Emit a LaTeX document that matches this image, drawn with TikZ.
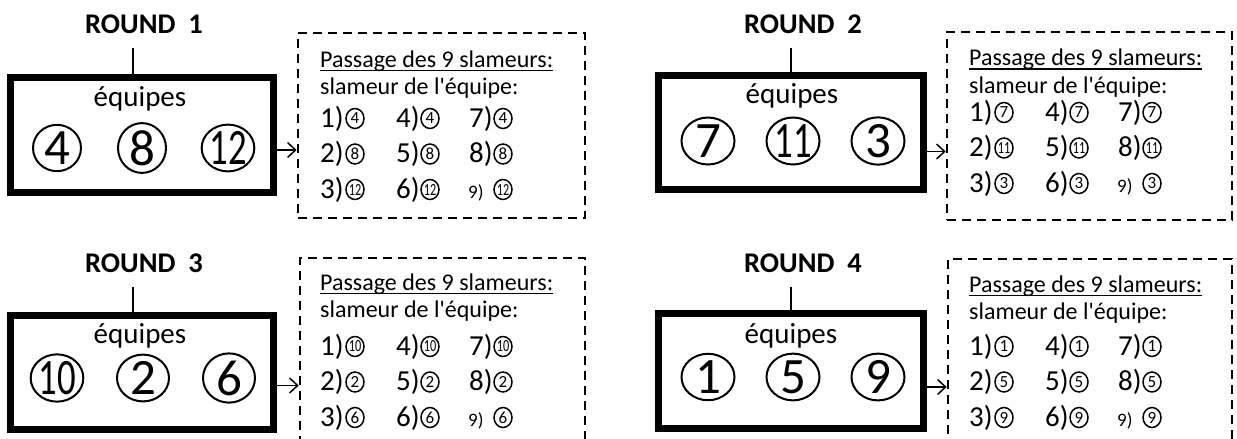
\documentclass[tikz,border=0pt]{standalone}
\usepackage{fontspec}
\usepackage{graphicx}
\setmainfont{Carlito}
\usetikzlibrary{shapes.geometric,arrows.meta}
\newcommand\fsz[1]{\fontsize{#1}{#1}\selectfont}
\newcommand\numtxt[1]{\ifnum#1>9 \scalebox{0.72}[1]{#1}\else #1\fi}
\tikzset{
  thickbox/.style={draw, line width=7pt, rectangle, inner sep=0pt},
  dashbox/.style={draw, line width=2.7pt, dash pattern=on 9pt off 6pt, rectangle, inner sep=0pt},
  bigcirc/.style={ellipse, draw, line width=2pt, inner sep=0pt, font=\fsz{51}},
  smallcirc/.style={ellipse, draw, line width=1.5pt, inner sep=0pt, minimum width=18pt, minimum height=20pt, font=\fsz{17}},
  roundlbl/.style={font=\fsz{28.5}\bfseries, inner sep=0pt, anchor=base},
  eqlbl/.style={font=\fsz{29}, inner sep=0pt, anchor=base},
  txt/.style={font=\fsz{24}, inner sep=0pt, anchor=base west},
  rowtxt/.style={font=\fsz{29}, inner sep=0pt, anchor=base west},
  smalltxt/.style={font=\fsz{19}, inner sep=0pt, anchor=base west},
  conn/.style={line width=1.5pt},
  arr/.style={line width=1.5pt, -{Straight Barb[length=8pt,width=15pt,line width=1.5pt]}},
  uline/.style={line width=1.6pt},
}
% #1 id, #2 x0, #3 baseline line1, #4 baseline row1, #5 #6 #7 teams
\newcommand\listblock[7]{%
  \node[txt] (#1ta) at (#2,#3) {Passage des 9 slameurs:};
  \draw[uline] ([yshift=-3.5pt]#1ta.base west) -- ([yshift=-3.5pt]#1ta.base east);
  \node[txt] (#1tb) at (#2,#3+27.5) {slameur de l\textquotesingle équipe:};
  \foreach \r/\n in {0/#5,1/#6,2/#7}{
    \foreach \c/\lx/\cx in {0/0/35,1/76/110,2/149/183}{
      \pgfmathtruncatemacro\k{\c*3+\r+1}
      \ifnum\k=9
        \node[smalltxt] (#1l\k) at (#2+\lx-1,#4+\r*35.5) {\k)};
      \else
        \node[rowtxt] (#1l\k) at (#2+\lx,#4+\r*35.5) {\k)};
      \fi
      \node[smallcirc] (#1c\k) at (#2+\cx,#4+\r*35.5-8.5) {\numtxt{\n}};
    }
  }
}
\begin{document}
\begin{tikzpicture}[x=1pt,y=-1pt]
\clip (0,0) rectangle (1237,439);
\fill[white] (0,0) rectangle (1237,439);

% ---------- Panel 1
\node[roundlbl] (r1) at (144,33) {ROUND\ \ 1};
\node[thickbox, minimum width=263pt, minimum height=115pt] (b1) at (142,135) {};
\draw[conn] ([xshift=-9pt]b1.north) -- ++(0,-26);
\node[eqlbl] (e1) at (140,106) {équipes};
\node[bigcirc, minimum width=48pt, minimum height=41pt] (c1a) at (57,148) {4};
\node[bigcirc, minimum width=48pt, minimum height=41pt] (c1b) at (142,148) {8};
\node[bigcirc, minimum width=49pt, minimum height=41pt] (c1c) at (228,148) {\numtxt{12}};
\node[dashbox, minimum width=287pt, minimum height=185pt] (d1) at (441.5,125.5) {};
\draw[arr] ([yshift=-15pt]b1.east) coordinate (a1) -- (a1 -| d1.west);
\listblock{p1}{320}{67}{127}{4}{8}{12}

% ---------- Panel 2
\node[roundlbl] (r2) at (803,33) {ROUND\ \ 2};
\node[thickbox, minimum width=265pt, minimum height=114pt] (b2) at (791,132.5) {};
\draw[conn] (b2.north) -- ++(0,-24);
\node[eqlbl] (e2) at (792,103) {équipes};
\node[bigcirc, minimum width=53pt, minimum height=47pt] (c2a) at (708,141) {7};
\node[bigcirc, minimum width=53pt, minimum height=47pt] (c2b) at (793,141) {\numtxt{11}};
\node[bigcirc, minimum width=53pt, minimum height=47pt] (c2c) at (878,141) {3};
\node[dashbox, minimum width=285pt, minimum height=188pt] (d2) at (1089.5,126) {};
\draw[arr] ([yshift=-19pt]b2.east) coordinate (a2) -- (a2 -| d2.west);
\listblock{p2}{969}{65.5}{121}{7}{11}{3}

% ---------- Panel 3
\node[roundlbl] (r3) at (144,272) {ROUND\ \ 3};
\node[thickbox, minimum width=263pt, minimum height=114pt] (b3) at (142,372.5) {};
\draw[conn] ([xshift=-9pt]b3.north) -- ++(0,-25);
\node[eqlbl] (e3) at (140,343) {équipes};
\node[bigcirc, minimum width=52pt, minimum height=41pt] (c3a) at (57,378) {\numtxt{10}};
\node[bigcirc, minimum width=52pt, minimum height=41pt] (c3b) at (143,378) {2};
\node[bigcirc, minimum width=52pt, minimum height=41pt] (c3c) at (229,378) {6};
\node[dashbox, minimum width=285pt, minimum height=212pt] (d3) at (442.5,364) {};
\draw[arr] ([yshift=-13pt]b3.east) coordinate (a3) -- (a3 -| d3.west);
\listblock{p3}{320}{290}{355}{10}{2}{6}

% ---------- Panel 4
\node[roundlbl] (r4) at (803,272) {ROUND\ \ 4};
\node[thickbox, minimum width=265pt, minimum height=115pt] (b4) at (791,371) {};
\draw[conn] (b4.north) -- ++(0,-23);
\node[eqlbl] (e4) at (791,343) {équipes};
\node[bigcirc, minimum width=53pt, minimum height=43pt] (c4a) at (708,377) {1};
\node[bigcirc, minimum width=53pt, minimum height=43pt] (c4b) at (793,377) {5};
\node[bigcirc, minimum width=53pt, minimum height=43pt] (c4c) at (878,377) {9};
\node[dashbox, minimum width=284pt, minimum height=211pt] (d4) at (1090,364.5) {};
\draw[arr] ([yshift=-16pt]b4.east) coordinate (a4) -- (a4 -| d4.west);
\listblock{p4}{969}{292}{355}{1}{5}{9}
\end{tikzpicture}
\end{document}
